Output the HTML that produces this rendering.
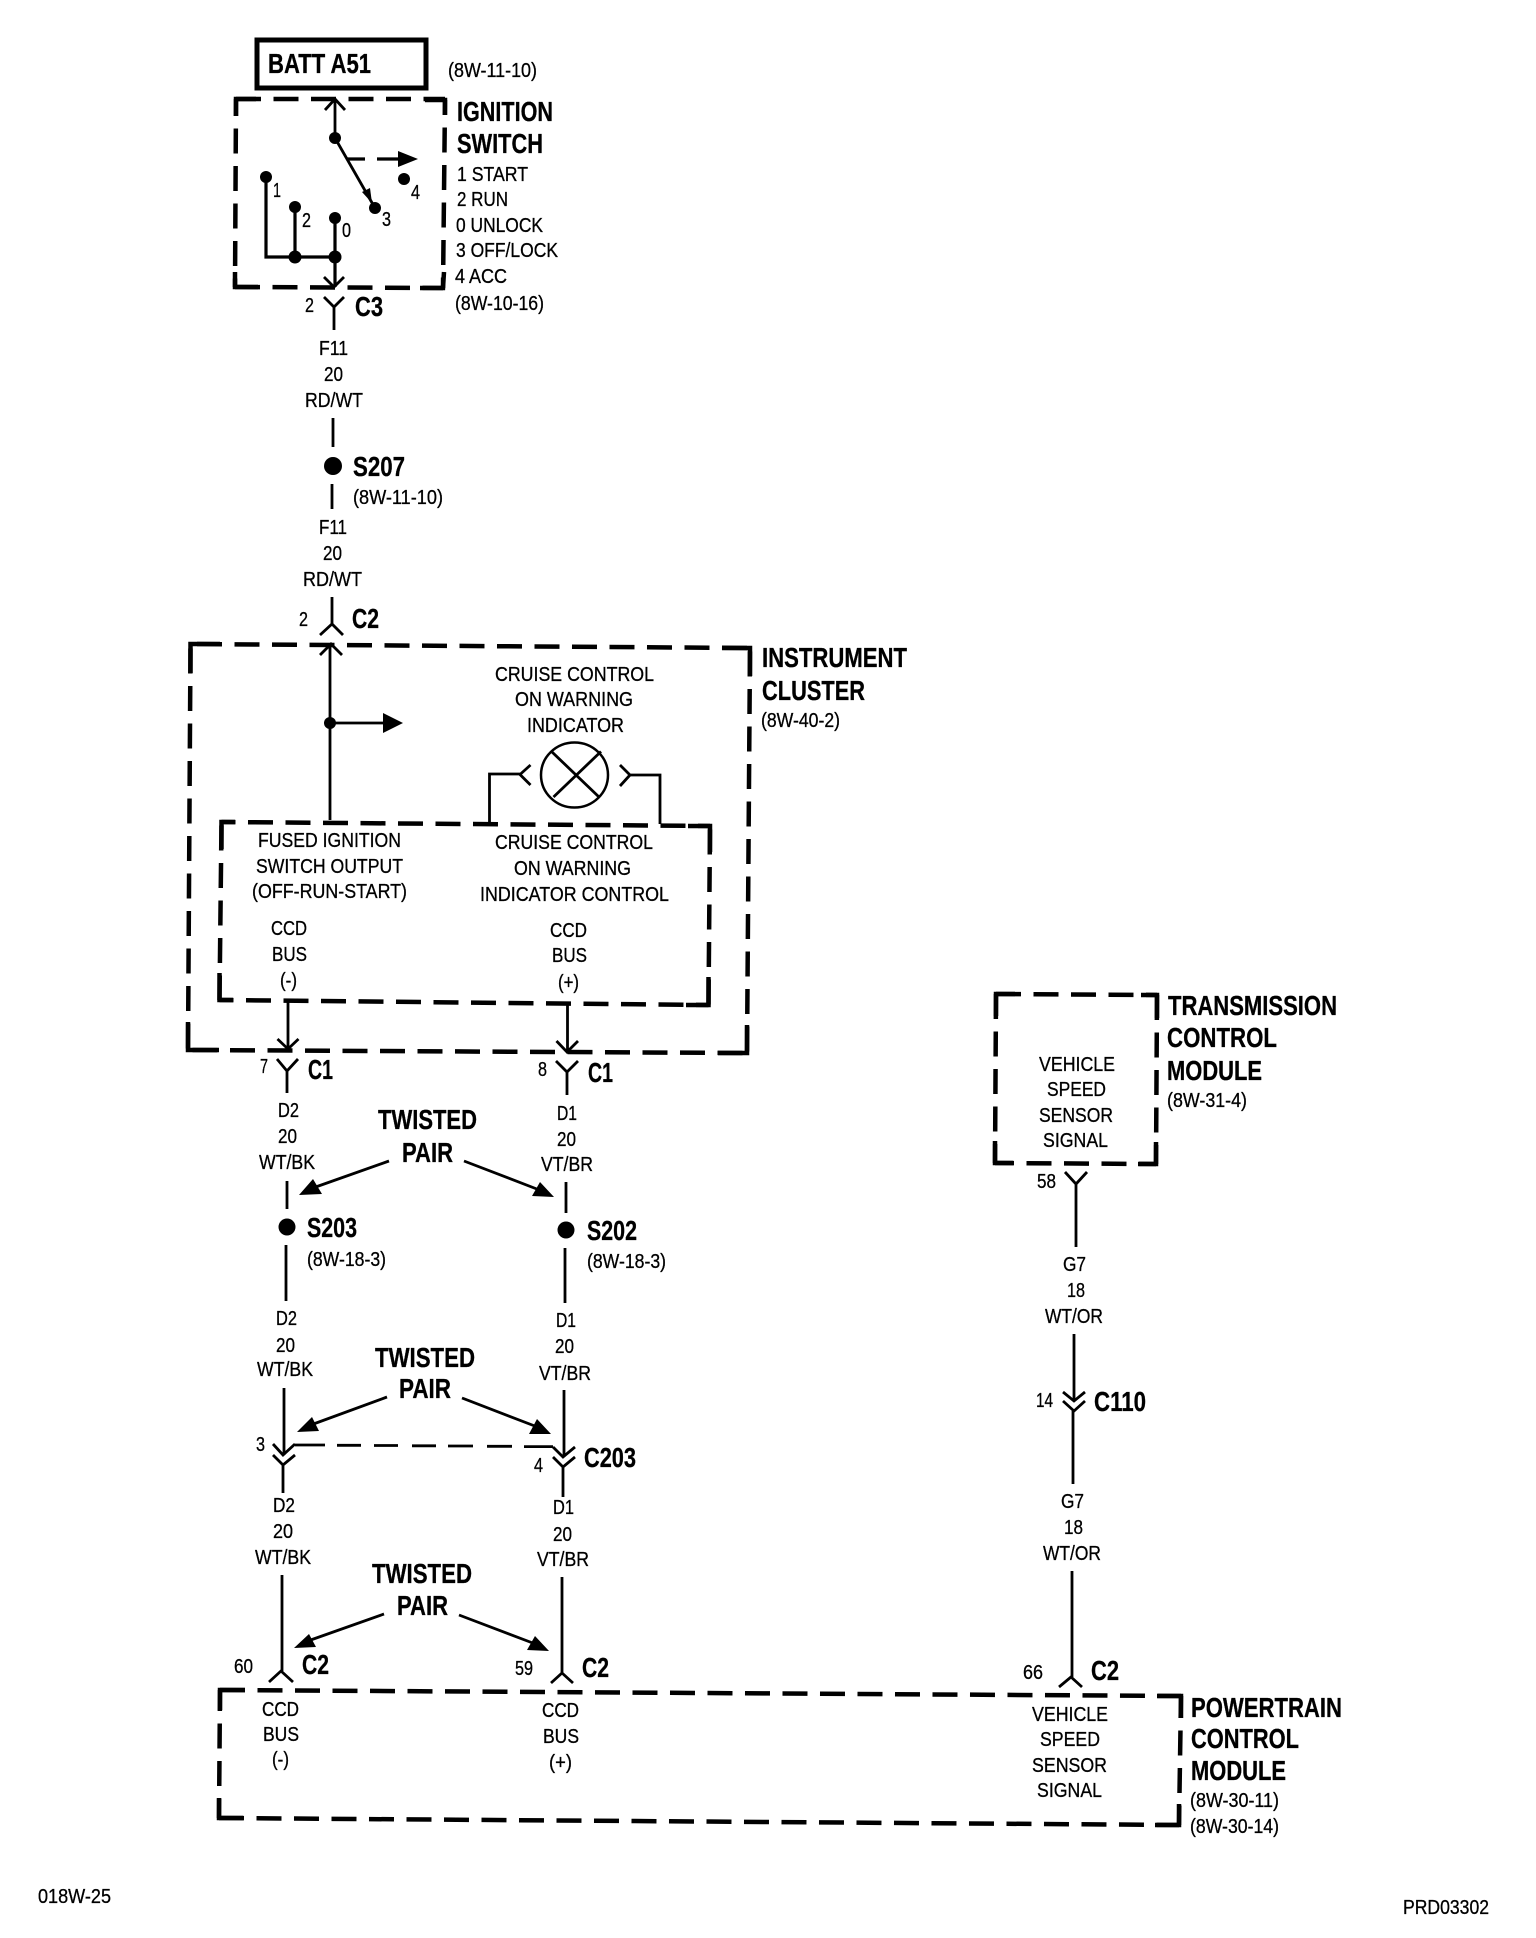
<!DOCTYPE html>
<html><head><meta charset="utf-8"><title>Wiring diagram</title>
<style>
html,body{margin:0;padding:0;background:#fff}
svg{display:block}
text{font-family:"Liberation Sans",Arial,sans-serif;fill:#000;stroke:#000}
.r{font-size:20.5px;stroke-width:.3;transform:translateY(-1px)}
.b{font-size:27.5px;font-weight:bold;stroke-width:.3}
.d{fill:none;stroke:#000;stroke-width:4.5;stroke-dasharray:25 12.5}
.c{fill:none;stroke:#000;stroke-width:4.5}
.l{fill:none;stroke:#000;stroke-width:2.8}
.t{fill:none;stroke:#000;stroke-width:3.2}
</style></head><body>
<svg xmlns="http://www.w3.org/2000/svg" width="1536" height="1938" viewBox="0 0 1536 1938">
<rect width="1536" height="1938" fill="#fff"/>
<g>
<!-- Ignition -->
<rect x="257" y="40" width="169" height="48" fill="none" stroke="#000" stroke-width="5"/>
<path class="d" d="M236,99H445"/>
<path class="d" stroke-dashoffset="8" d="M236,99L235,287"/>
<path class="d" stroke-dashoffset="10" d="M445,100L443,288"/>
<path class="d" d="M235,287L443,288"/>
<path class="c" d="M236,116V99H256M425,100H445V115M235,272V287H258M420,288H443L444,272"/>
<path class="l" d="M325,110L335,99L345,110M335,99V138M335,138L375,208"/>
<path d="M372,203L362,192L370,188Z"/>
<circle cx="335" cy="138" r="6"/><circle cx="375" cy="208" r="6"/><circle cx="404" cy="179" r="6"/>
<path class="t" d="M347,159H365M377,159H398"/>
<path d="M398,151V167L418,159Z"/>
<path class="t" d="M266,177V257H335M295,207V257M335,218V287"/>
<circle cx="266" cy="177" r="6"/><circle cx="295" cy="207" r="6"/><circle cx="335" cy="218" r="6"/><circle cx="295" cy="257" r="6.5"/><circle cx="335" cy="257" r="6.5"/>
<path class="l" d="M324,277L334,287L344,277M324,297L334,307L344,297M334,307V330"/>
<path class="l" d="M333,418V447M332,484V509M332,597V625M320,635L332,624L343,635"/>
<circle cx="333" cy="466" r="9"/>
<!-- Instrument cluster -->
<path class="d" stroke-dashoffset="31" d="M190.5,644L750,648"/>
<path class="d" stroke-dashoffset="33" d="M190.5,644L188,1050"/>
<path class="d" stroke-dashoffset="33" d="M188,1050L747,1053"/>
<path class="d" stroke-dashoffset="34" d="M750,648L747,1053"/>
<path class="c" d="M190.500,673V644H220M722,648H750V676M188,1022V1050H219M718,1053H747V1025"/>
<path class="d" stroke-dashoffset="11" d="M221.500,822L710,826"/>
<path class="d" stroke-dashoffset="34" d="M221.500,822L219.500,1000"/>
<path class="d" stroke-dashoffset="11" d="M219.500,1000L708.500,1005"/>
<path class="d" stroke-dashoffset="34" d="M710,826L708.500,1005"/>
<path class="c" d="M221.500,849V822H235M688,826H710V852M219.500,973V1000H233M686,1005H708.500V977"/>
<path class="l" d="M320,655L331,644L342,655M330,644V820M330,723H383"/>
<circle cx="330" cy="723" r="6"/>
<path d="M383,713V733L403,723Z"/>
<ellipse cx="574.500" cy="775" rx="33.500" ry="32.500" fill="none" stroke="#000" stroke-width="2.500"/>
<path class="l" d="M551.500,751.500L599,797M601,751.500L553.500,797"/>
<path class="l" d="M489.500,822V774H520M530.500,765L520,774.500L530.500,785M620,765L630,775L620,786M630,775H660V824"/>
<path class="l" d="M288,1000V1048M277.500,1039L288,1049L298.500,1039M567.500,1004V1052M556.500,1041L567,1052L578,1041"/>
<!-- Left wire runs -->
<path class="l" d="M277,1059L287,1071L298,1059M287,1071V1093M556,1061L567,1072L578,1061M567,1072V1095"/>
<path class="l" d="M287,1181V1209M286,1245V1301M566,1182V1213M565,1248V1303"/>
<circle cx="287" cy="1227" r="8.500"/><circle cx="566" cy="1230" r="8.500"/>
<path class="l" d="M389,1161L310,1189M464,1161L542,1191"/>
<path d="M299,1195L313,1179L322,1194Z M554,1197L540,1182L532,1196Z"/>
<path class="l" d="M387,1397L308,1426M462,1398L540,1428"/>
<path d="M297,1432L312,1417L319,1431Z M551,1434L537,1419L529,1434Z"/>
<path class="l" d="M384,1614L305,1642M459,1615L538,1645"/>
<path d="M294,1648L309,1634L316,1647Z M549,1651L535,1636L527,1650Z"/>
<path class="l" d="M284,1388V1455M273,1444L283,1455L295,1444M273,1455L283,1465L295,1455M283,1465V1493"/>
<path class="l" d="M564,1390V1457M553,1447L563,1457L575,1447M553,1457L563,1467L575,1457M563,1467V1497"/>
<path class="l" d="M295,1445H325M337,1445.300H361M374,1445.500H398M412,1445.800H436M448,1446H473M487,1446.300H512M524,1446.600H553"/>
<path class="l" d="M282,1575V1671M269,1682L281,1671L293,1682M562,1577V1673M551,1683L562,1673L573,1683"/>
<!-- Powertrain -->
<path class="d" d="M220,1690L1181,1696"/>
<path class="d" d="M219,1818L1179,1825"/>
<path class="d" stroke-dashoffset="4" d="M220,1690L219,1818"/>
<path class="d" stroke-dashoffset="3" d="M1181,1696L1179,1825"/>
<path class="c" d="M220,1710V1690H245M1157,1696H1181V1718M219,1798V1818H243M1155,1825H1179V1804"/>
<!-- Transmission -->
<path class="d" d="M996,994L1157,995"/>
<path class="d" d="M996,994L995,1163"/>
<path class="d" stroke-dashoffset="6" d="M995,1163L1156,1164"/>
<path class="d" d="M1157,995L1156,1164"/>
<path class="c" d="M996,1016V994H1015M1141,995H1157V1018M995,1141V1163H1013M1138,1164H1156V1142"/>
<path class="l" d="M1065,1172L1076,1184L1087,1172M1076,1184V1247M1074,1334V1400M1063,1392L1074,1401L1085,1392M1063,1401L1074,1411L1085,1401M1073,1411V1484M1072,1571V1677M1059,1687L1071,1677L1082,1687"/>
</g>
<g>
<text class="b" x="268" y="73" textLength="103" lengthAdjust="spacingAndGlyphs">BATT A51</text>
<text class="r" x="448" y="78" textLength="89" lengthAdjust="spacingAndGlyphs">(8W-11-10)</text>
<text class="b" x="457" y="121" textLength="96" lengthAdjust="spacingAndGlyphs">IGNITION</text>
<text class="b" x="457" y="153" textLength="86" lengthAdjust="spacingAndGlyphs">SWITCH</text>
<text class="r" x="457" y="182" textLength="71" lengthAdjust="spacingAndGlyphs">1 START</text>
<text class="r" x="457" y="207" textLength="51" lengthAdjust="spacingAndGlyphs">2 RUN</text>
<text class="r" x="456" y="233" textLength="87" lengthAdjust="spacingAndGlyphs">0 UNLOCK</text>
<text class="r" x="456" y="258" textLength="102" lengthAdjust="spacingAndGlyphs">3 OFF/LOCK</text>
<text class="r" x="455" y="284" textLength="52" lengthAdjust="spacingAndGlyphs">4 ACC</text>
<text class="r" x="455" y="311" textLength="89" lengthAdjust="spacingAndGlyphs">(8W-10-16)</text>
<text class="r" x="273" y="198" textLength="8" lengthAdjust="spacingAndGlyphs">1</text>
<text class="r" x="302" y="228" textLength="9" lengthAdjust="spacingAndGlyphs">2</text>
<text class="r" x="342" y="238" textLength="9" lengthAdjust="spacingAndGlyphs">0</text>
<text class="r" x="382" y="227" textLength="9" lengthAdjust="spacingAndGlyphs">3</text>
<text class="r" x="411" y="200" textLength="9" lengthAdjust="spacingAndGlyphs">4</text>
<text class="r" x="305" y="313" textLength="9" lengthAdjust="spacingAndGlyphs">2</text>
<text class="b" x="355" y="316" textLength="28" lengthAdjust="spacingAndGlyphs">C3</text>

<text class="r" x="319" y="356" textLength="29" lengthAdjust="spacingAndGlyphs">F11</text>
<text class="r" x="324" y="382" textLength="19" lengthAdjust="spacingAndGlyphs">20</text>
<text class="r" x="305" y="408" textLength="58" lengthAdjust="spacingAndGlyphs">RD/WT</text>
<text class="b" x="353" y="476" textLength="52" lengthAdjust="spacingAndGlyphs">S207</text>
<text class="r" x="353" y="505" textLength="90" lengthAdjust="spacingAndGlyphs">(8W-11-10)</text>
<text class="r" x="319" y="535" textLength="28" lengthAdjust="spacingAndGlyphs">F11</text>
<text class="r" x="323" y="561" textLength="19" lengthAdjust="spacingAndGlyphs">20</text>
<text class="r" x="303" y="587" textLength="59" lengthAdjust="spacingAndGlyphs">RD/WT</text>
<text class="r" x="299" y="627" textLength="9" lengthAdjust="spacingAndGlyphs">2</text>
<text class="b" x="352" y="628" textLength="27" lengthAdjust="spacingAndGlyphs">C2</text>

<text class="b" x="762" y="667" textLength="145" lengthAdjust="spacingAndGlyphs">INSTRUMENT</text>
<text class="b" x="762" y="700" textLength="103" lengthAdjust="spacingAndGlyphs">CLUSTER</text>
<text class="r" x="761" y="728" textLength="79" lengthAdjust="spacingAndGlyphs">(8W-40-2)</text>
<text class="r" x="495" y="682" textLength="159" lengthAdjust="spacingAndGlyphs">CRUISE CONTROL</text>
<text class="r" x="515" y="707" textLength="118" lengthAdjust="spacingAndGlyphs">ON WARNING</text>
<text class="r" x="527" y="733" textLength="97" lengthAdjust="spacingAndGlyphs">INDICATOR</text>
<text class="r" x="258" y="848" textLength="143" lengthAdjust="spacingAndGlyphs">FUSED IGNITION</text>
<text class="r" x="256" y="874" textLength="147" lengthAdjust="spacingAndGlyphs">SWITCH OUTPUT</text>
<text class="r" x="252" y="899" textLength="155" lengthAdjust="spacingAndGlyphs">(OFF-RUN-START)</text>
<text class="r" x="495" y="850" textLength="158" lengthAdjust="spacingAndGlyphs">CRUISE CONTROL</text>
<text class="r" x="514" y="876" textLength="117" lengthAdjust="spacingAndGlyphs">ON WARNING</text>
<text class="r" x="480" y="902" textLength="189" lengthAdjust="spacingAndGlyphs">INDICATOR CONTROL</text>
<text class="r" x="271" y="936" textLength="36" lengthAdjust="spacingAndGlyphs">CCD</text>
<text class="r" x="272" y="962" textLength="35" lengthAdjust="spacingAndGlyphs">BUS</text>
<text class="r" x="280" y="988" textLength="17" lengthAdjust="spacingAndGlyphs">(-)</text>
<text class="r" x="550" y="938" textLength="37" lengthAdjust="spacingAndGlyphs">CCD</text>
<text class="r" x="552" y="963" textLength="35" lengthAdjust="spacingAndGlyphs">BUS</text>
<text class="r" x="558" y="990" textLength="21" lengthAdjust="spacingAndGlyphs">(+)</text>

<text class="r" x="260" y="1074" textLength="8" lengthAdjust="spacingAndGlyphs">7</text>
<text class="b" x="308" y="1079" textLength="25" lengthAdjust="spacingAndGlyphs">C1</text>
<text class="r" x="538" y="1077" textLength="9" lengthAdjust="spacingAndGlyphs">8</text>
<text class="b" x="588" y="1082" textLength="25" lengthAdjust="spacingAndGlyphs">C1</text>
<text class="r" x="278" y="1118" textLength="21" lengthAdjust="spacingAndGlyphs">D2</text>
<text class="r" x="278" y="1144" textLength="19" lengthAdjust="spacingAndGlyphs">20</text>
<text class="r" x="259" y="1170" textLength="56" lengthAdjust="spacingAndGlyphs">WT/BK</text>
<text class="b" x="307" y="1237" textLength="50" lengthAdjust="spacingAndGlyphs">S203</text>
<text class="r" x="307" y="1267" textLength="79" lengthAdjust="spacingAndGlyphs">(8W-18-3)</text>
<text class="r" x="276" y="1326" textLength="21" lengthAdjust="spacingAndGlyphs">D2</text>
<text class="r" x="557" y="1121" textLength="20" lengthAdjust="spacingAndGlyphs">D1</text>
<text class="r" x="557" y="1147" textLength="19" lengthAdjust="spacingAndGlyphs">20</text>
<text class="r" x="541" y="1172" textLength="52" lengthAdjust="spacingAndGlyphs">VT/BR</text>
<text class="b" x="587" y="1240" textLength="50" lengthAdjust="spacingAndGlyphs">S202</text>
<text class="r" x="587" y="1269" textLength="79" lengthAdjust="spacingAndGlyphs">(8W-18-3)</text>
<text class="r" x="556" y="1328" textLength="20" lengthAdjust="spacingAndGlyphs">D1</text>
<text class="b" x="378" y="1129" textLength="99" lengthAdjust="spacingAndGlyphs">TWISTED</text>
<text class="b" x="402" y="1162" textLength="51" lengthAdjust="spacingAndGlyphs">PAIR</text>

<text class="r" x="276" y="1353" textLength="19" lengthAdjust="spacingAndGlyphs">20</text>
<text class="r" x="257" y="1377" textLength="56" lengthAdjust="spacingAndGlyphs">WT/BK</text>
<text class="r" x="555" y="1354" textLength="19" lengthAdjust="spacingAndGlyphs">20</text>
<text class="r" x="539" y="1381" textLength="52" lengthAdjust="spacingAndGlyphs">VT/BR</text>
<text class="b" x="375" y="1367" textLength="100" lengthAdjust="spacingAndGlyphs">TWISTED</text>
<text class="b" x="399" y="1398" textLength="52" lengthAdjust="spacingAndGlyphs">PAIR</text>
<text class="r" x="256" y="1452" textLength="9" lengthAdjust="spacingAndGlyphs">3</text>
<text class="r" x="534" y="1473" textLength="9" lengthAdjust="spacingAndGlyphs">4</text>
<text class="b" x="584" y="1467" textLength="52" lengthAdjust="spacingAndGlyphs">C203</text>
<text class="r" x="273" y="1513" textLength="22" lengthAdjust="spacingAndGlyphs">D2</text>
<text class="r" x="273" y="1539" textLength="20" lengthAdjust="spacingAndGlyphs">20</text>
<text class="r" x="255" y="1565" textLength="56" lengthAdjust="spacingAndGlyphs">WT/BK</text>
<text class="r" x="553" y="1515" textLength="21" lengthAdjust="spacingAndGlyphs">D1</text>
<text class="r" x="553" y="1542" textLength="19" lengthAdjust="spacingAndGlyphs">20</text>
<text class="r" x="537" y="1567" textLength="52" lengthAdjust="spacingAndGlyphs">VT/BR</text>
<text class="b" x="372" y="1583" textLength="100" lengthAdjust="spacingAndGlyphs">TWISTED</text>
<text class="b" x="397" y="1615" textLength="51" lengthAdjust="spacingAndGlyphs">PAIR</text>
<text class="r" x="234" y="1674" textLength="19" lengthAdjust="spacingAndGlyphs">60</text>
<text class="b" x="302" y="1674" textLength="27" lengthAdjust="spacingAndGlyphs">C2</text>
<text class="r" x="515" y="1676" textLength="18" lengthAdjust="spacingAndGlyphs">59</text>
<text class="b" x="582" y="1677" textLength="27" lengthAdjust="spacingAndGlyphs">C2</text>
<text class="r" x="262" y="1717" textLength="37" lengthAdjust="spacingAndGlyphs">CCD</text>
<text class="r" x="263" y="1742" textLength="36" lengthAdjust="spacingAndGlyphs">BUS</text>
<text class="r" x="272" y="1767" textLength="17" lengthAdjust="spacingAndGlyphs">(-)</text>
<text class="r" x="542" y="1718" textLength="37" lengthAdjust="spacingAndGlyphs">CCD</text>
<text class="r" x="543" y="1744" textLength="36" lengthAdjust="spacingAndGlyphs">BUS</text>
<text class="r" x="549" y="1770" textLength="23" lengthAdjust="spacingAndGlyphs">(+)</text>

<text class="b" x="1168" y="1015" textLength="169" lengthAdjust="spacingAndGlyphs">TRANSMISSION</text>
<text class="b" x="1167" y="1047" textLength="110" lengthAdjust="spacingAndGlyphs">CONTROL</text>
<text class="b" x="1167" y="1080" textLength="95" lengthAdjust="spacingAndGlyphs">MODULE</text>
<text class="r" x="1167" y="1108" textLength="80" lengthAdjust="spacingAndGlyphs">(8W-31-4)</text>
<text class="r" x="1039" y="1072" textLength="76" lengthAdjust="spacingAndGlyphs">VEHICLE</text>
<text class="r" x="1047" y="1097" textLength="59" lengthAdjust="spacingAndGlyphs">SPEED</text>
<text class="r" x="1039" y="1123" textLength="74" lengthAdjust="spacingAndGlyphs">SENSOR</text>
<text class="r" x="1043" y="1148" textLength="65" lengthAdjust="spacingAndGlyphs">SIGNAL</text>
<text class="r" x="1037" y="1189" textLength="19" lengthAdjust="spacingAndGlyphs">58</text>
<text class="r" x="1063" y="1272" textLength="23" lengthAdjust="spacingAndGlyphs">G7</text>
<text class="r" x="1067" y="1298" textLength="18" lengthAdjust="spacingAndGlyphs">18</text>
<text class="r" x="1045" y="1324" textLength="58" lengthAdjust="spacingAndGlyphs">WT/OR</text>
<text class="r" x="1036" y="1408" textLength="17" lengthAdjust="spacingAndGlyphs">14</text>
<text class="b" x="1094" y="1411" textLength="52" lengthAdjust="spacingAndGlyphs">C110</text>
<text class="r" x="1061" y="1509" textLength="23" lengthAdjust="spacingAndGlyphs">G7</text>
<text class="r" x="1064" y="1535" textLength="19" lengthAdjust="spacingAndGlyphs">18</text>
<text class="r" x="1043" y="1561" textLength="58" lengthAdjust="spacingAndGlyphs">WT/OR</text>
<text class="r" x="1023" y="1680" textLength="20" lengthAdjust="spacingAndGlyphs">66</text>
<text class="b" x="1091" y="1680" textLength="28" lengthAdjust="spacingAndGlyphs">C2</text>
<text class="r" x="1032" y="1722" textLength="76" lengthAdjust="spacingAndGlyphs">VEHICLE</text>
<text class="r" x="1040" y="1747" textLength="60" lengthAdjust="spacingAndGlyphs">SPEED</text>
<text class="r" x="1032" y="1773" textLength="75" lengthAdjust="spacingAndGlyphs">SENSOR</text>
<text class="r" x="1037" y="1798" textLength="65" lengthAdjust="spacingAndGlyphs">SIGNAL</text>
<text class="b" x="1191" y="1717" textLength="151" lengthAdjust="spacingAndGlyphs">POWERTRAIN</text>
<text class="b" x="1191" y="1748" textLength="108" lengthAdjust="spacingAndGlyphs">CONTROL</text>
<text class="b" x="1191" y="1780" textLength="95" lengthAdjust="spacingAndGlyphs">MODULE</text>
<text class="r" x="1190" y="1808" textLength="89" lengthAdjust="spacingAndGlyphs">(8W-30-11)</text>
<text class="r" x="1190" y="1834" textLength="89" lengthAdjust="spacingAndGlyphs">(8W-30-14)</text>
<text class="r" x="38" y="1904" textLength="73" lengthAdjust="spacingAndGlyphs">018W-25</text>
<text class="r" x="1403" y="1915" textLength="86" lengthAdjust="spacingAndGlyphs">PRD03302</text>
</g>
</svg>
</body></html>
